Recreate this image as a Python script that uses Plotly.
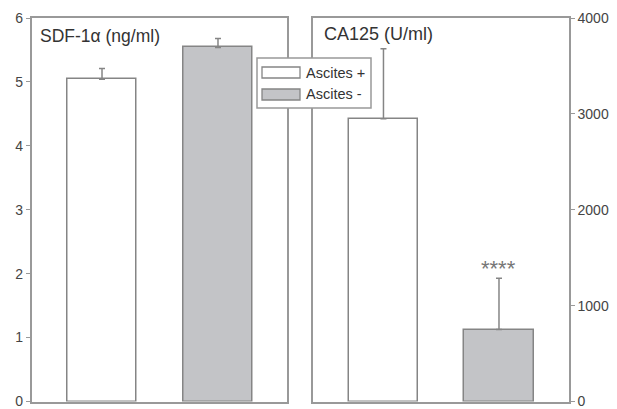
import plotly.graph_objects as go

# ---- data -------------------------------------------------------------
groups = ["Ascites +", "Ascites -"]
sdf1a_mean = [5.04, 5.54]      # ng/ml
sdf1a_sd = [0.17, 0.14]
ca125_mean = [2950, 750]       # U/ml
ca125_sd = [730, 535]
sdf_ticks = [0, 1, 2, 3, 4, 5, 6]
ca_ticks = [0, 1000, 2000, 3000, 4000]
significance = ["", "****"]

# ---- style ------------------------------------------------------------
W, H = 617, 409
FONT = "Liberation Sans, Arial, sans-serif"
LINE = "#999999"
EDGE = "#858585"
FILLS = ["#ffffff", "#c3c4c7"]
TEXT = "#333333"
TICKTEXT = "#444444"


def px_x(p):
    return p / W


def px_y(p):
    return 1 - p / H


x_pos = [0, 1]

fig = go.Figure()

for i in range(2):
    fig.add_trace(go.Bar(
        x=[x_pos[i]], y=[sdf1a_mean[i]], width=0.6,
        marker=dict(color=FILLS[i], line=dict(color=EDGE, width=1.5)),
        error_y=dict(type="data", array=[sdf1a_sd[i]], arrayminus=[0],
                     symmetric=False, color=EDGE, thickness=1.5, width=3),
        xaxis="x", yaxis="y", showlegend=False, name=groups[i],
    ))
    fig.add_trace(go.Bar(
        x=[x_pos[i]], y=[ca125_mean[i]], width=0.6,
        marker=dict(color=FILLS[i], line=dict(color=EDGE, width=1.5)),
        error_y=dict(type="data", array=[ca125_sd[i]], arrayminus=[0],
                     symmetric=False, color=EDGE, thickness=1.5, width=3),
        xaxis="x2", yaxis="y2", showlegend=False, name=groups[i],
    ))

y_dom = [px_y(401.5), px_y(18)]
axis_common = dict(showgrid=False, zeroline=False, linecolor=LINE, linewidth=1.5,
                   mirror=True, fixedrange=True, automargin=False)
tick_font = dict(size=14, color=TICKTEXT, family=FONT)

fig.update_layout(
    width=W, height=H,
    margin=dict(l=0, r=0, t=0, b=0),
    paper_bgcolor="white", plot_bgcolor="white",
    font=dict(family=FONT, color=TEXT),
    bargap=0,
    xaxis=dict(domain=[px_x(31.5), px_x(287)], range=[-0.608, 1.595],
               showticklabels=False, ticks="", anchor="y", **axis_common),
    yaxis=dict(domain=y_dom, range=[0, 6], tickvals=sdf_ticks,
               ticks="outside", ticklen=4, tickwidth=1, tickcolor=LINE,
               tickfont=tick_font, ticklabeloverflow="allow",
               anchor="x", **axis_common),
    xaxis2=dict(domain=[px_x(313), px_x(569)], range=[-0.61, 1.606],
                showticklabels=False, ticks="", anchor="y2", **axis_common),
    yaxis2=dict(domain=y_dom, range=[0, 4000], tickvals=ca_ticks, side="right",
                ticks="outside", ticklen=4, tickwidth=1, tickcolor=LINE,
                tickfont=tick_font, ticklabeloverflow="allow",
                anchor="x2", **axis_common),
)

annotations = [
    dict(text="SDF-1α (ng/ml)", xref="paper", yref="paper",
         x=px_x(38), y=px_y(36), xanchor="left", yanchor="middle",
         showarrow=False, font=dict(size=17.5, color=TEXT, family=FONT)),
    dict(text="CA125 (U/ml)", xref="paper", yref="paper",
         x=px_x(322), y=px_y(34.5), xanchor="left", yanchor="middle",
         showarrow=False, font=dict(size=18, color=TEXT, family=FONT)),
]
for i in range(2):
    if significance[i]:
        annotations.append(dict(
            text=significance[i], xref="x2", yref="y2",
            x=x_pos[i], y=ca125_mean[i] + ca125_sd[i], yshift=10,
            yanchor="middle", showarrow=False,
            font=dict(size=22, color="#777777", family=FONT)))

# legend box drawn as layout shapes
shapes = [dict(type="rect", xref="paper", yref="paper",
               x0=px_x(257), x1=px_x(371), y0=px_y(108), y1=px_y(58),
               fillcolor="white", line=dict(color=LINE, width=1.5), layer="above")]
sw_y = [(67, 78), (89, 100)]
for i in range(2):
    shapes.append(dict(type="rect", xref="paper", yref="paper",
                       x0=px_x(262), x1=px_x(300),
                       y0=px_y(sw_y[i][1]), y1=px_y(sw_y[i][0]),
                       fillcolor=FILLS[i], line=dict(color=EDGE, width=1.3),
                       layer="above"))
    annotations.append(dict(text=groups[i], xref="paper", yref="paper",
                            x=px_x(304), y=px_y((sw_y[i][0] + sw_y[i][1]) / 2),
                            xanchor="left", yanchor="middle", showarrow=False,
                            font=dict(size=14.5, color=TEXT, family=FONT)))

fig.update_layout(shapes=shapes, annotations=annotations)

fig.write_html("out.html")
